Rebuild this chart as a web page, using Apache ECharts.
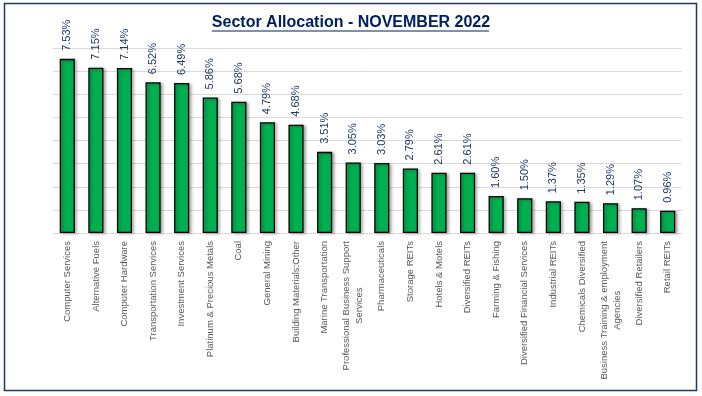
<!DOCTYPE html>
<html>
<head>
<meta charset="utf-8">
<script src="https://cdn.jsdelivr.net/npm/echarts@6/dist/echarts.min.js"></script>
<style>
html,body{margin:0;padding:0;background:#fff;}
#c{width:702px;height:396px;}
</style>
</head>
<body>
<div id="c"></div>
<script>
const categories = [
  "Computer Services","Alternative Fuels","Computer Hardware","Transportation Services",
  "Investment Services","Platinum & Precious Metals","Coal","General Mining",
  "Building Materials:Other","Marine Transportation","Professional Business Support\nServices",
  "Pharmaceuticals","Storage REITs","Hotels & Motels","Diversified REITs","Farming & Fishing",
  "Diversified Financial Services","Industrial REITs","Chemicals Diversified",
  "Business Training & employment\nAgencies","Diversified Retailers","Retail REITs"
];
const allocation = [7.53,7.15,7.14,6.52,6.49,5.86,5.68,4.79,4.68,3.51,3.05,3.03,2.79,2.61,2.61,1.60,1.50,1.37,1.35,1.29,1.07,0.96];
const titleText = "Sector Allocation - NOVEMBER 2022";

const chart = echarts.init(document.getElementById('c'), null, {renderer:'canvas'});
chart.setOption({
  animation:false,
  backgroundColor:'#fff',
  title:{
    text:titleText,
    left:'center',
    top:10,
    textStyle:{fontFamily:'Liberation Sans',fontSize:16,fontWeight:'bold',color:'#002060'}
  },
  graphic:[
    {type:'rect',shape:{x:4.5,y:3.5,width:692,height:387},style:{fill:'none',stroke:'#1F3864',lineWidth:1.5},silent:true},
    {type:'line',shape:{x1:212,y1:31,x2:489,y2:31},style:{stroke:'#002060',lineWidth:1.2},silent:true}
  ],
  grid:{left:53,right:20,top:48,bottom:163,containLabel:false},
  xAxis:{
    type:'category',
    data:categories,
    axisLine:{show:true,lineStyle:{color:'#D9D9D9',width:1}},
    axisTick:{show:false},
    axisLabel:{
      rotate:90,interval:0,margin:8,align:'right',verticalAlign:'middle',
      formatter:v=>v.split('\n').map(s=>'{c|'+s+'}').join('\n'),
      rich:{c:{align:'center',color:'#595959',fontFamily:'Liberation Sans',fontSize:9.5,lineHeight:13}}
    }
  },
  yAxis:{
    type:'value',min:0,max:8,interval:1,
    axisLabel:{show:false},axisLine:{show:false},axisTick:{show:false},
    splitLine:{lineStyle:{color:'#D9D9D9',width:1}}
  },
  series:[{
    type:'bar',
    data:allocation,
    barWidth:'53%',
    itemStyle:{color:'#00B050',borderColor:'#000',borderWidth:1.3,shadowColor:'rgba(0,0,0,0.35)',shadowBlur:3,shadowOffsetX:2,shadowOffsetY:1},
    label:{
      show:true,position:'top',rotate:90,align:'left',verticalAlign:'middle',distance:8,
      formatter:p=>p.value.toFixed(2)+'%',
      color:'#1F3864',fontFamily:'Liberation Sans',fontSize:11
    }
  }]
});
</script>
</body>
</html>
